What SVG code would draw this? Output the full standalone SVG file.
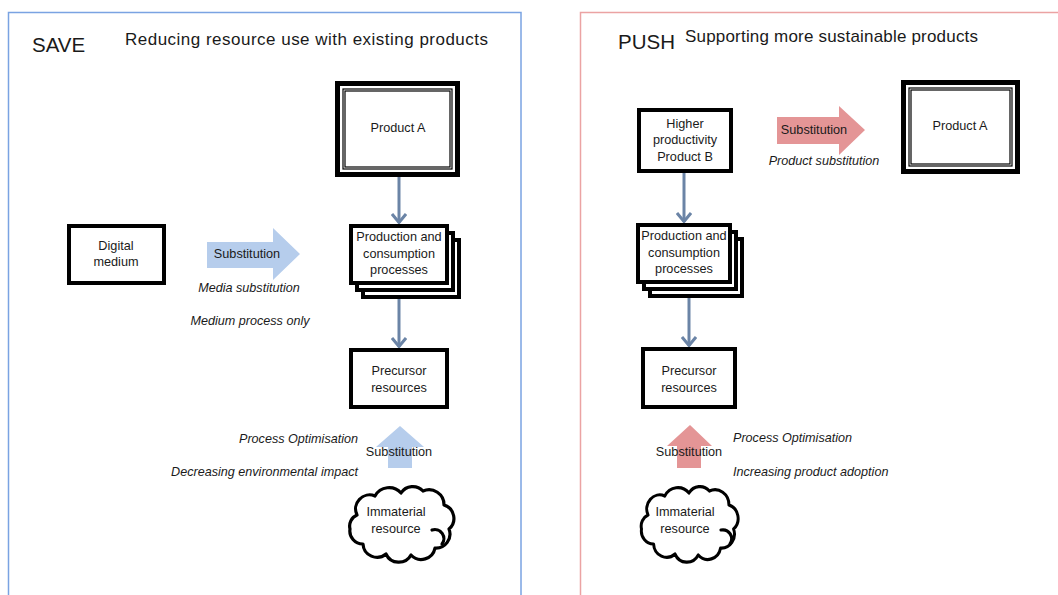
<svg xmlns="http://www.w3.org/2000/svg" width="1058" height="595" viewBox="0 0 1058 595">
  <style>
    text { font-family: "Liberation Sans", Arial, sans-serif; fill: #1a1a1a; }
    .t12 { font-size: 12.7px; text-anchor: middle; }
    .it { font-size: 12.6px; font-style: italic; }
    .title { font-size: 20.5px; }
    .sub { font-size: 17px; }
    .box { fill: #fff; stroke: #000; stroke-width: 4; }
    .frame { fill: #fff; stroke: #000; stroke-width: 5; }
    .thin { fill: none; stroke: #000; stroke-width: 1.2; }
    .cloud { fill: #fff; stroke: #000; stroke-width: 3.2; stroke-linejoin: round; }
    .curl { fill: none; stroke: #000; stroke-width: 3.2; stroke-linecap: round; }
    .flow { stroke: #6b84a6; stroke-width: 3; fill: none; marker-end: url(#vhead); }
    .blue { fill: #b6cdec; }
    .red { fill: #e49596; }
  </style>
  <defs>
    <!-- open chevron head, drawn along +x so orient="auto" turns it with the line -->
    <marker id="vhead" viewBox="0 0 12 16" refX="11" refY="8" markerUnits="userSpaceOnUse" markerWidth="12" markerHeight="16" orient="auto">
      <polyline points="2,1 10.5,8 2,15" fill="none" stroke="#6b84a6" stroke-width="3"/>
    </marker>
    <path id="cloudShape" d="M14,30 A14,14 0 0 1 32,11 A16,16 0 0 1 58,8 A14,14 0 0 1 80,6 A15,15 0 0 1 101,20 A14,14 0 0 1 106,44 A14,14 0 0 1 92,63 A14,14 0 0 1 68,70 A14,14 0 0 1 43,69 A14,14 0 0 1 20,59 A13,13 0 0 1 7,44 A12,12 0 0 1 14,30 Z"/>
  </defs>

  <!-- panel frames -->
  <g id="panels">
    <rect x="8.5" y="12.5" width="512.5" height="600" fill="none" stroke="#7aa3e2" stroke-width="1.5"/>
    <rect x="580.5" y="12.5" width="500" height="600" fill="none" stroke="#eba3a3" stroke-width="1.5"/>
  </g>

  <!-- ===== SAVE panel ===== -->
  <g id="save-title">
    <text class="title" x="32" y="52">SAVE</text>
    <text class="sub" x="125" y="45" textLength="363">Reducing resource use with existing products</text>
  </g>

  <g id="save-productA">
    <rect class="frame" x="337.5" y="83.5" width="120" height="91"/>
    <rect class="thin" x="343" y="89" width="109" height="80" stroke="#777"/>
    <rect class="thin" x="345" y="91" width="105" height="76"/>
    <text class="t12" x="398" y="132">Product A</text>
  </g>

  <g id="save-digital">
    <rect class="box" x="69" y="226" width="95" height="57"/>
    <text class="t12" x="116" y="250">Digital</text>
    <text class="t12" x="116" y="266">medium</text>
  </g>

  <g id="save-media-sub">
    <polygon class="blue" points="207,242 273,242 273,228 300,254 273,280 273,268 207,268"/>
    <text class="t12" x="247" y="258">Substitution</text>
    <text class="it" x="249" y="292" text-anchor="middle">Media substitution</text>
    <text class="it" x="250" y="325" text-anchor="middle">Medium process only</text>
  </g>

  <g id="save-processes">
    <rect class="box" x="363" y="240" width="96" height="57"/>
    <rect class="box" x="357" y="233" width="96" height="57"/>
    <rect class="box" x="351" y="226" width="96" height="57"/>
    <text class="t12" x="399" y="241">Production and</text>
    <text class="t12" x="399" y="258">consumption</text>
    <text class="t12" x="399" y="274">processes</text>
  </g>

  <g id="save-precursor">
    <rect class="box" x="351" y="350" width="96" height="57"/>
    <text class="t12" x="399" y="375">Precursor</text>
    <text class="t12" x="399" y="392">resources</text>
  </g>

  <g id="save-process-sub">
    <polygon class="blue" points="388,468 388,447 376,447 400,426 424,447 412,447 412,468"/>
    <text class="t12" x="399" y="456">Substitution</text>
    <text class="it" x="358" y="443" text-anchor="end">Process Optimisation</text>
    <text class="it" x="358" y="476" text-anchor="end">Decreasing environmental impact</text>
  </g>

  <g id="save-immaterial">
    <use href="#cloudShape" class="cloud" transform="translate(343,485)"/>
    <path class="curl" d="M432,530 A9,9 0 0 1 442,544"/>
    <text class="t12" x="396" y="516">Immaterial</text>
    <text class="t12" x="396" y="533">resource</text>
  </g>

  <!-- ===== PUSH panel ===== -->
  <g id="push-title">
    <text class="title" x="618" y="49">PUSH</text>
    <text class="sub" x="685" y="42" textLength="293">Supporting more sustainable products</text>
  </g>

  <g id="push-productB">
    <rect class="box" x="639" y="110" width="92" height="61"/>
    <text class="t12" x="685" y="128">Higher</text>
    <text class="t12" x="685" y="144">productivity</text>
    <text class="t12" x="685" y="161">Product B</text>
  </g>

  <g id="push-product-sub">
    <polygon class="red" points="777,117 839,117 839,106 865,130 839,155 839,144 777,144"/>
    <text class="t12" x="814" y="134">Substitution</text>
    <text class="it" x="824" y="165" text-anchor="middle">Product substitution</text>
  </g>

  <g id="push-productA">
    <rect class="frame" x="903.5" y="82.5" width="114" height="89"/>
    <rect class="thin" x="909" y="88" width="103" height="78" stroke="#777"/>
    <rect class="thin" x="911" y="90" width="99" height="74"/>
    <text class="t12" x="960" y="130">Product A</text>
  </g>

  <g id="push-processes">
    <rect class="box" x="650" y="239" width="92" height="57"/>
    <rect class="box" x="644" y="232" width="92" height="57"/>
    <rect class="box" x="638" y="225" width="92" height="57"/>
    <text class="t12" x="684" y="240">Production and</text>
    <text class="t12" x="684" y="257">consumption</text>
    <text class="t12" x="684" y="273">processes</text>
  </g>

  <g id="push-precursor">
    <rect class="box" x="643" y="349" width="92" height="58"/>
    <text class="t12" x="689" y="375">Precursor</text>
    <text class="t12" x="689" y="392">resources</text>
  </g>

  <g id="push-process-sub">
    <polygon class="red" points="677,468 677,446 667,446 690,425 712,446 701,446 701,468"/>
    <text class="t12" x="689" y="456">Substitution</text>
    <text class="it" x="733" y="442">Process Optimisation</text>
    <text class="it" x="733" y="476">Increasing product adoption</text>
  </g>

  <g id="push-immaterial">
    <use href="#cloudShape" class="cloud" transform="translate(635,485) scale(0.93,1)"/>
    <path class="curl" d="M721,530 A9,9 0 0 1 730,544"/>
    <text class="t12" x="685" y="516">Immaterial</text>
    <text class="t12" x="685" y="533">resource</text>
  </g>

  <!-- flow connectors -->
  <g id="connectors">
    <line class="flow" x1="399" y1="177" x2="399" y2="223"/>
    <line class="flow" x1="399" y1="299" x2="399" y2="347"/>
    <line class="flow" x1="684" y1="173" x2="684" y2="222"/>
    <line class="flow" x1="689" y1="298" x2="689" y2="346"/>
  </g>
</svg>
